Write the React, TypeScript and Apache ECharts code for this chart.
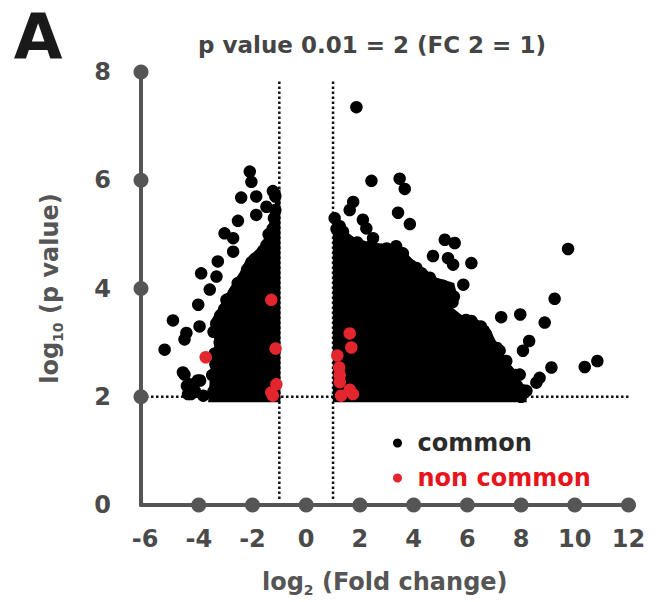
import React, { useEffect, useRef } from "react";
import * as echarts from "echarts";

const FONT = '"DejaVu Sans", "Noto Sans", sans-serif';

// Axis ranges and tick labels
const X_MIN = -6.15;
const X_MAX = 12;
const Y_MIN = 0;
const Y_MAX = 8;
const X_LABELS = [-6, -4, -2, 0, 2, 4, 6, 8, 10, 12];
const X_DOT_TICKS = [-4, -2, 0, 2, 4, 6, 8, 10, 12];
const Y_DOT_TICKS = [2, 4, 6, 8];

// Threshold lines: log2 FC = ±1, -log10 p = 2
const FC_THRESHOLDS = [-1, 1];
const P_THRESHOLD = 2;
const V_LINE_RANGE = [0.11, 7.84];
const H_LINE_RANGE = [X_MIN, 12.42];

// Dense (saturated) black areas of the cloud, outline
const LEFT_CLOUD = [
  [-3.65, 1.9], [-3.55, 2.6], [-3.4, 3.0], [-3.55, 3.4], [-3.26, 3.65],
  [-2.86, 4.0], [-2.47, 4.3], [-2.22, 4.56], [-1.88, 4.7], [-1.63, 4.85],
  [-1.38, 5.2], [-1.24, 5.4], [-1.09, 5.75], [-0.96, 5.85], [-0.96, 1.9],
];
const RIGHT_CLOUD = [
  [0.99, 1.9], [0.99, 5.35], [1.1, 5.42], [1.37, 5.1], [1.77, 4.95],
  [2.36, 4.85], [3.05, 4.82], [3.49, 4.78], [3.94, 4.55], [4.28, 4.4],
  [4.87, 4.2], [5.51, 4.1], [5.61, 3.9], [5.31, 3.7], [5.81, 3.5],
  [6.3, 3.45], [6.79, 3.3], [6.99, 3.1], [7.28, 2.8], [7.68, 2.55],
  [7.97, 2.3], [8.17, 2.0], [8.22, 1.9],
];

// Individual "common" genes (black)
const LEFT_POINTS = [
  [-2.1, 6.16], [-2.04, 5.97], [-2.42, 5.68], [-1.86, 5.7], [-1.24, 5.8],
  [-1.48, 5.51], [-1.86, 5.36], [-2.54, 5.25], [-3.04, 5.02], [-2.72, 4.93],
  [-2.72, 4.68], [-3.29, 4.5], [-3.91, 4.28], [-3.34, 4.22], [-3.59, 3.98],
  [-2.97, 3.79], [-4.02, 3.7], [-4.96, 3.41], [-3.97, 3.3], [-4.46, 3.18],
  [-4.53, 3.06], [-5.27, 2.87], [-4.53, 2.41], [-4.34, 2.23], [-4.4, 2.05],
  [-4.14, 2.1], [-4.04, 2.3], [-3.83, 2.02], [-4.59, 2.45], [-4.44, 2.2],
  [-4.29, 2.05], [-3.95, 2.3],
  [-3.45, 2.1], [-3.38, 2.6], [-3.22, 3.0], [-3.35, 3.35], [-3.05, 3.62],
  [-2.68, 3.92], [-2.3, 4.2], [-2.05, 4.45], [-1.72, 4.62], [-1.48, 4.8],
  [-1.25, 5.1], [-1.15, 5.45], [-1.15, 5.7],
  [-3.5, 2.4], [-3.4, 2.8], [-3.45, 3.2], [-3.2, 3.5], [-2.9, 3.8],
  [-2.55, 4.1], [-2.2, 4.35], [-1.9, 4.55], [-1.6, 4.7], [-1.4, 5.0],
  [-1.2, 5.3],
];
const RIGHT_POINTS = [
  [1.87, 7.35], [2.43, 5.99], [3.48, 6.03], [3.67, 5.84], [1.75, 5.6],
  [1.62, 5.45], [3.42, 5.4], [3.86, 5.19], [2.11, 5.27], [2.24, 5.11],
  [2.49, 4.93], [5.16, 4.9], [5.53, 4.84], [4.72, 4.6], [5.28, 4.56],
  [5.47, 4.44], [6.15, 4.47], [3.35, 4.78], [9.75, 4.73], [5.85, 4.07],
  [9.25, 3.81], [7.26, 3.47], [7.97, 3.52], [8.88, 3.37], [6.15, 3.4],
  [6.52, 3.24], [5.59, 3.21], [8.3, 3.03], [8.07, 2.85], [7.2, 2.85],
  [7.45, 2.66], [9.13, 2.54], [10.37, 2.55], [10.84, 2.66], [8.69, 2.35],
  [8.57, 2.26], [7.95, 2.41], [8.2, 2.11], [7.7, 2.14], [7.2, 2.29],
  [6.83, 2.02], [6.58, 2.05], [5.72, 2.02], [5.72, 2.97], [1.37, 5.05],
  [1.06, 5.3], [1.13, 5.1],
  [3.9, 4.42], [4.3, 4.28], [4.8, 4.08], [5.3, 3.95], [5.45, 3.75],
  [5.75, 3.38], [6.25, 3.32], [6.7, 3.15], [6.9, 2.95], [7.2, 2.68],
  [7.55, 2.45], [7.85, 2.2], [8.0, 2.0], [2.8, 4.7], [1.55, 4.85],
  [3.2, 4.68], [2.1, 4.75],
  [1.25, 5.15], [1.9, 4.85], [2.4, 4.78], [3.0, 4.74], [3.6, 4.65],
  [4.1, 4.38], [4.6, 4.2], [5.1, 4.05], [5.5, 3.85], [5.2, 3.62],
  [5.95, 3.42], [6.5, 3.3], [7.1, 2.9], [7.4, 2.62], [7.8, 2.4],
  [8.05, 2.12],
];

// "non common" genes (red)
const RED_POINTS = [
  [1.62, 3.17], [1.68, 2.91], [1.16, 2.76], [1.23, 2.54], [1.25, 2.4],
  [1.25, 2.27], [1.62, 2.13], [1.74, 2.05], [1.3, 2.02],
  [-1.3, 3.79], [-1.14, 2.89], [-3.74, 2.73], [-1.11, 2.23], [-1.3, 2.08],
  [-1.24, 2.02],
];

const TITLE = "p value 0.01 = 2 (FC 2 = 1)";
const PANEL = "A";

export default function App() {
  const ref = useRef<HTMLDivElement>(null);

  useEffect(() => {
    document.body.style.margin = "0";
    if (!ref.current) return;
    const chart = echarts.init(ref.current, null, { renderer: "svg" });

    const dashStyle = { type: [2.5, 2.5], width: 2.5, color: "#111" };
    const thresholdLines: any[] = FC_THRESHOLDS.map((fc, i) => ({
      type: "line",
      name: "fc" + i,
      data: [
        [fc, V_LINE_RANGE[0]],
        [fc, V_LINE_RANGE[1]],
      ],
      symbol: "none",
      lineStyle: dashStyle,
      clip: false,
      silent: true,
      z: 1,
    }));
    thresholdLines.push({
      type: "line",
      name: "pthr",
      data: [
        [H_LINE_RANGE[0], P_THRESHOLD],
        [H_LINE_RANGE[1], P_THRESHOLD],
      ],
      symbol: "none",
      lineStyle: dashStyle,
      clip: false,
      silent: true,
      z: 1,
    });

    const clouds = [LEFT_CLOUD, RIGHT_CLOUD];

    const axisNameRich = {
      a: { fontSize: 24, fontWeight: "bold", color: "#555", fontFamily: FONT, lineHeight: 30 },
      s: { fontSize: 14, fontWeight: "bold", color: "#555", fontFamily: FONT, lineHeight: 14, verticalAlign: "bottom" },
    };

    chart.setOption({
      animation: false,
      backgroundColor: "#fff",
      grid: { left: 141, right: 29.5, top: 72, bottom: 93 },
      xAxis: {
        type: "value",
        min: X_MIN,
        max: X_MAX,
        axisLine: { show: true, onZero: false, lineStyle: { color: "#555", width: 4 } },
        axisTick: { show: false },
        splitLine: { show: false },
        axisLabel: {
          customValues: X_LABELS,
          fontSize: 24,
          fontWeight: "bold",
          color: "#4a4a4a",
          fontFamily: FONT,
          margin: 22,
        },
        name: "{a|log}{s|2}{a| (Fold change)}",
        nameLocation: "middle",
        nameGap: 62,
        nameTextStyle: { rich: axisNameRich },
      },
      yAxis: {
        type: "value",
        min: Y_MIN,
        max: Y_MAX,
        interval: 2,
        axisLine: { show: true, onZero: false, lineStyle: { color: "#555", width: 4 } },
        axisTick: { show: false },
        splitLine: { show: false },
        axisLabel: {
          fontSize: 24,
          fontWeight: "bold",
          color: "#4a4a4a",
          fontFamily: FONT,
          margin: 30,
        },
        name: "{a|log}{s|10}{a| (p value)}",
        nameLocation: "middle",
        nameGap: 76,
        nameRotate: 90,
        nameTextStyle: { rich: axisNameRich },
      },
      legend: {
        orient: "vertical",
        left: 388,
        top: 426,
        itemWidth: 30,
        itemHeight: 9,
        itemGap: 11,
        icon: "circle",
        selectedMode: false,
        textStyle: { fontSize: 24, fontWeight: "bold", fontFamily: FONT, lineHeight: 24 },
        data: [
          { name: "common", textStyle: { color: "#2b2b2b" } },
          { name: "non common", textStyle: { color: "#e8141c" } },
        ],
      },
      graphic: [
        {
          type: "text",
          x: 38,
          y: 36,
          style: {
            text: PANEL,
            font: `bold 63px ${FONT}`,
            fill: "#1a1a1a",
            textAlign: "center",
            verticalAlign: "middle",
          },
        },
        {
          type: "text",
          x: 372,
          y: 45,
          style: {
            text: TITLE,
            font: `bold 23px ${FONT}`,
            fill: "#444",
            textAlign: "center",
            verticalAlign: "middle",
          },
        },
      ],
      series: [
        ...thresholdLines,
        {
          type: "custom",
          name: "dense",
          data: clouds.map((c) => c[0]),
          silent: true,
          z: 2,
          renderItem: (params: any, api: any) => {
            const poly = clouds[params.dataIndex];
            return {
              type: "polygon",
              shape: { points: poly.map((p) => api.coord(p)) },
              style: { fill: "#000" },
            };
          },
        },
        {
          type: "scatter",
          name: "common",
          data: [...LEFT_POINTS, ...RIGHT_POINTS],
          symbolSize: 12.5,
          itemStyle: { color: "#000", opacity: 1 },
          silent: true,
          z: 3,
        },
        {
          type: "scatter",
          name: "non common",
          data: RED_POINTS,
          symbolSize: 12.5,
          itemStyle: { color: "#e3262d", opacity: 1 },
          silent: true,
          z: 4,
        },
        {
          type: "scatter",
          name: "axisDots",
          data: [
            ...X_DOT_TICKS.map((x) => [x, Y_MIN]),
            ...Y_DOT_TICKS.map((y) => [X_MIN, y]),
          ],
          symbolSize: 15,
          itemStyle: { color: "#555", opacity: 1 },
          clip: false,
          silent: true,
          z: 5,
        },
      ],
    });

    return () => chart.dispose();
  }, []);

  return (
    <div
      ref={ref}
      style={{ width: 658, height: 602, position: "absolute", left: 0, top: 0, background: "#fff" }}
    />
  );
}
